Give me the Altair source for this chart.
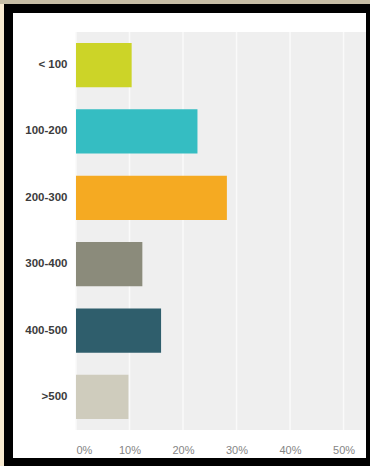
import altair as alt
import pandas as pd

categories = ["< 100", "100-200", "200-300", "300-400", "400-500", ">500"]
shares = [0.104, 0.227, 0.282, 0.124, 0.159, 0.098]
bar_colors = ["#ccd428", "#35bdc2", "#f5aa22", "#8b8b7b", "#2f5e6c", "#cfccbd"]
tick_values = [0.0, 0.1, 0.2, 0.3, 0.4, 0.5]

W, H = 290, 398

bars_df = pd.DataFrame({"range": categories, "share": shares, "color": bar_colors})
ticks_df = pd.DataFrame({"share": tick_values})
one = pd.DataFrame({"a": [0]})

xscale = alt.Scale(domain=[0, 0.542], nice=False, zero=True)
xaxis = alt.Axis(
    values=tick_values,
    format=".0%",
    grid=False,
    domain=False,
    ticks=False,
    labelFlush=True,
    labelPadding=14,
    labelFont="Liberation Sans",
    labelFontSize=11,
    labelColor="#858585",
    title=None,
    zindex=1,
)

# frame pieces (decoration)
white_panel = alt.Chart(one).mark_rect(color="#ffffff").encode(
    x=alt.value(-63), x2=alt.value(W), y=alt.value(-19), y2=alt.value(H + 28)
)
left_strip = alt.Chart(one).mark_rect(color="#f8ead0").encode(
    x=alt.value(-76), x2=alt.value(-72), y=alt.value(-32), y2=alt.value(H + 36)
)
top_strip = alt.Chart(one).mark_rect(color="#c6bda5").encode(
    x=alt.value(-76), x2=alt.value(W + 4), y=alt.value(-32), y2=alt.value(-28)
)
plot_bg = alt.Chart(one).mark_rect(color="#efefef").encode(
    x=alt.value(0), x2=alt.value(W), y=alt.value(0), y2=alt.value(H)
)

grid = alt.Chart(ticks_df).mark_rule(color="#fafafa", strokeWidth=1.5).encode(
    x=alt.X("share:Q", scale=xscale, axis=xaxis),
    y=alt.value(0),
    y2=alt.value(H),
)

bars = alt.Chart(bars_df).mark_bar().encode(
    x=alt.X("share:Q", scale=xscale, axis=xaxis),
    y=alt.Y(
        "range:N",
        sort=categories,
        scale=alt.Scale(paddingInner=0.333, paddingOuter=0.166),
        axis=alt.Axis(
            grid=False,
            domain=False,
            ticks=False,
            labelPadding=9,
            labelFont="Liberation Sans",
            labelFontSize=11.5,
            labelFontWeight="bold",
            labelColor="#3c3c3c",
            title=None,
            zindex=1,
        ),
    ),
    color=alt.Color("color:N", scale=None, legend=None),
)

chart = alt.layer(left_strip, top_strip, white_panel, plot_bg, grid, bars).properties(
    width=W,
    height=H,
    autosize=alt.AutoSizeParams(type="none"),
    padding={"left": 76, "top": 32, "right": 4, "bottom": 36},
    background="#000000",
).configure_view(stroke=None)

chart.save("out.html", embed_options={"renderer": "svg", "actions": False})
